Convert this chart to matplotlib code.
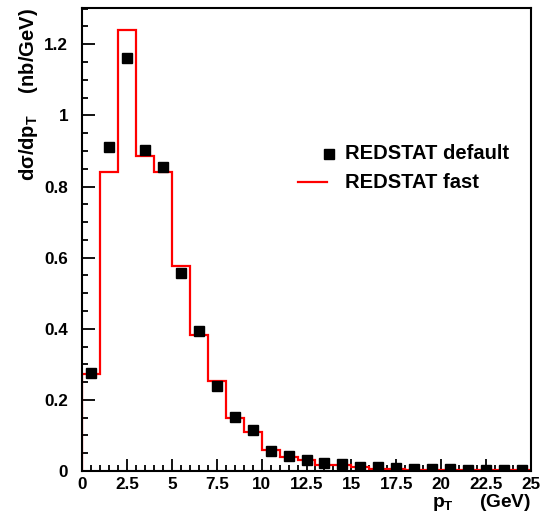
import numpy as np
import matplotlib
matplotlib.use("Agg")
import matplotlib.pyplot as plt
from matplotlib.ticker import MultipleLocator

plt.rcParams['font.family'] = ['Liberation Sans', 'DejaVu Sans']
plt.rcParams['font.weight'] = 'bold'
plt.rcParams['mathtext.fontset'] = 'custom'
plt.rcParams['mathtext.rm'] = 'Liberation Sans:bold'
plt.rcParams['mathtext.it'] = 'Liberation Sans:bold'
plt.rcParams['mathtext.bf'] = 'Liberation Sans:bold'

# Data
bin_edges = np.arange(0, 26, 1.0)
default_vals = [0.276, 0.911, 1.160, 0.903, 0.854, 0.558, 0.394, 0.239, 0.151, 0.114,
                0.057, 0.041, 0.032, 0.022, 0.019, 0.012, 0.011, 0.008, 0.007, 0.006,
                0.005, 0.004, 0.004, 0.003, 0.003]
fast_vals = [0.274, 0.840, 1.241, 0.887, 0.840, 0.577, 0.383, 0.252, 0.148, 0.110,
             0.059, 0.040, 0.030, 0.017, 0.017, 0.010, 0.006, 0.006, 0.002, 0.002,
             0.002, 0.002, 0.002, 0.002, 0.002]
labels = ["REDSTAT default", "REDSTAT fast"]

fig = plt.figure(figsize=(5.42, 5.13), dpi=100)
ax = fig.add_axes([82/542, 42/513, 449/542, 463/513])

centers = 0.5 * (bin_edges[:-1] + bin_edges[1:])
ax.stairs(fast_vals, bin_edges, baseline=0, color='#ff0000', lw=1.6, zorder=2)
ax.plot(centers, default_vals, ls='none', marker='s', ms=6.5, color='black', zorder=3)

ax.set_xlim(0, 25)
ax.set_ylim(0, 1.302)
ax.xaxis.set_major_locator(MultipleLocator(2.5))
ax.xaxis.set_minor_locator(MultipleLocator(0.5))
ax.yaxis.set_major_locator(MultipleLocator(0.2))
ax.yaxis.set_minor_locator(MultipleLocator(0.05))
ax.xaxis.set_major_formatter(plt.FuncFormatter(lambda v, p: f"{v:g}"))
ax.yaxis.set_major_formatter(plt.FuncFormatter(lambda v, p: f"{v:g}"))
ax.tick_params(which='both', direction='in', top=False, right=False, width=1.3, labelsize=12.3)
ax.tick_params(which='major', length=9)
ax.tick_params(which='minor', length=4.5)
ax.tick_params(axis='y', pad=10)
ax.tick_params(axis='x', pad=4)
for s in ax.spines.values():
    s.set_linewidth(1.5)

ax.set_ylabel("dσ/dp$_\\mathregular{T}$    (nb/GeV)", fontsize=14.5, fontweight='bold', loc='top')
ax.yaxis.set_label_coords(-0.094, 1.0)
ax.set_xlabel("p$_\\mathregular{T}$     (GeV)", fontsize=13.8, fontweight='bold', loc='right')
ax.xaxis.set_label_coords(1.0, -0.046)

# legend (drawn manually to match layout)
ax.plot([0.550], [0.685], marker='s', ms=6.5, color='black', ls='none', transform=ax.transAxes)
ax.text(0.586, 0.685, labels[0], transform=ax.transAxes, fontsize=14.5, fontweight='bold', va='center', ha='left')
ax.plot([0.481, 0.546], [0.624, 0.624], color='#ff0000', lw=1.6, transform=ax.transAxes)
ax.text(0.586, 0.624, labels[1], transform=ax.transAxes, fontsize=14.5, fontweight='bold', va='center', ha='left')

fig.savefig("out.png", dpi=100)
